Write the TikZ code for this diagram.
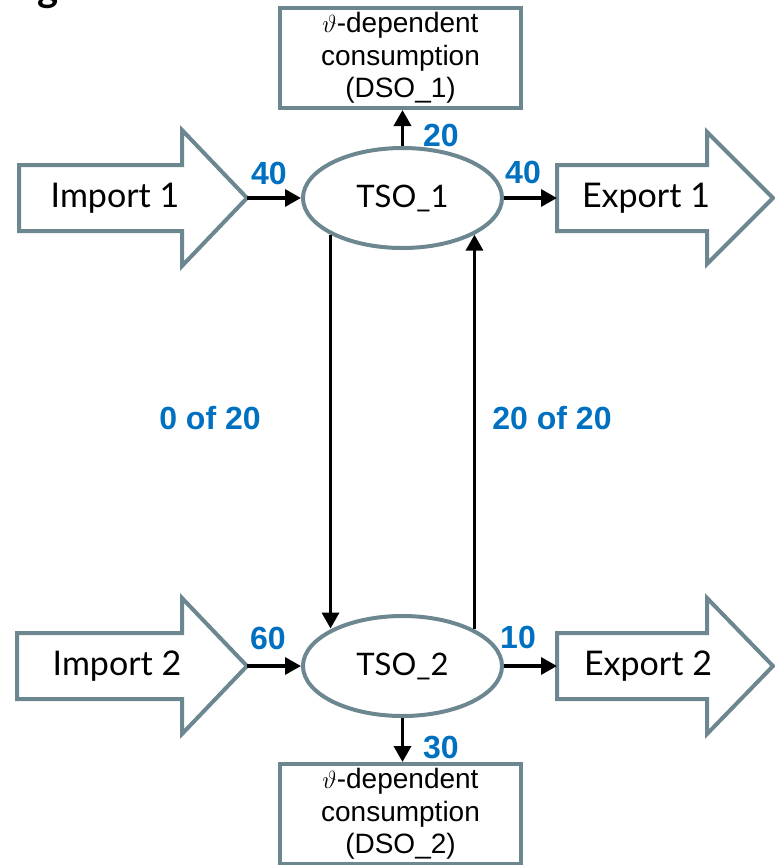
\documentclass[tikz,border=0pt]{standalone}
\usepackage{fontspec}
\setmainfont{Liberation Sans}
\newfontfamily\gillish{Lato}
\usetikzlibrary{arrows.meta,shapes.geometric}
\definecolor{frame}{HTML}{6D8790}
\definecolor{flowblue}{HTML}{0070C0}
\tikzset{
  outline/.style={draw=frame,line width=4pt,line join=miter},
  dsobox/.style={outline,minimum width=241pt,minimum height=100pt,inner sep=0pt,
    align=center,font=\fontsize{28}{32.5}\selectfont},
  tso/.style={outline,ellipse,minimum width=199pt,minimum height=100pt,inner sep=0pt,
    font=\gillish\fontsize{31}{36}\selectfont},
  blocktext/.style={font=\gillish\fontsize{34}{40}\selectfont},
  flow/.style={-{Triangle[length=16pt,width=17pt]},line width=3.5pt},
  qty/.style={text=flowblue,font=\bfseries\fontsize{32}{36}\selectfont},
}
\begin{document}
\begin{tikzpicture}[x=1pt,y=-1pt]
\useasboundingbox (0,0) rectangle (774,865);

% fragment of a heading above the page edge
\node[anchor=base,font=\gillish\bfseries\fontsize{40}{44}\selectfont] (head) at (48,1) {g};

% block arrows for imports and exports
\draw[outline] (19,165) -- (182,165) -- (182,130) -- (247,198) -- (182,266) -- (182,231) -- (19,231) -- cycle;
\draw[outline] (17,633) -- (182,633) -- (182,598) -- (247,666) -- (182,734) -- (182,699) -- (17,699) -- cycle;
\draw[outline] (557,165) -- (707,165) -- (707,132) -- (773,198) -- (707,264) -- (707,231) -- (557,231) -- cycle;
\draw[outline] (557,633) -- (707,633) -- (707,598) -- (773,666) -- (707,734) -- (707,699) -- (557,699) -- cycle;
\coordinate (imp1) at (247,198);
\coordinate (imp2) at (247,666);
\coordinate (exp1) at (557,198);
\coordinate (exp2) at (557,666);
\node[blocktext] (imp1t) at (115,198) {Import 1};
\node[blocktext] (imp2t) at (117,666) {Import 2};
\node[blocktext] (exp1t) at (646,198) {Export 1};
\node[blocktext] (exp2t) at (648,666) {Export 2};

% transmission operators
\node[tso] (tso1) at (402.5,198) {TSO\_1};
\node[tso] (tso2) at (402.5,666) {TSO\_2};

% distribution consumers
\node[dsobox] (dso1) at (400.5,58) {$\vartheta$-dependent\\consumption\\(DSO\_1)};
\node[dsobox] (dso2) at (400.5,814) {$\vartheta$-dependent\\consumption\\(DSO\_2)};

% flows
\draw[flow] (imp1) -- (tso1.west);
\draw[flow] (tso1.east) -- (exp1);
\draw[flow] (imp2) -- (tso2.west);
\draw[flow] (tso2.east) -- (exp2);
\draw[flow] (tso1.north) -- (tso1.north |- dso1.south);
\draw[flow] (tso2.south) -- (tso2.south |- dso2.north);
\draw[flow] (tso1.207.3) -- (tso1.207.3 |- tso2.152.7);
\draw[flow] (tso2.27.3) -- (tso2.27.3 |- tso1.-27.3);

% flow quantities
\node[qty] (q1) at (269,173) {40};
\node[qty] (q2) at (523,172) {40};
\node[qty] (q3) at (441,135) {20};
\node[qty] (q4) at (268,638) {60};
\node[qty] (q5) at (518,637) {10};
\node[qty] (q6) at (441,747) {30};
\node[qty] (q7) at (210,418) {0 of 20};
\node[qty] (q8) at (552,418) {20 of 20};
\end{tikzpicture}
\end{document}
